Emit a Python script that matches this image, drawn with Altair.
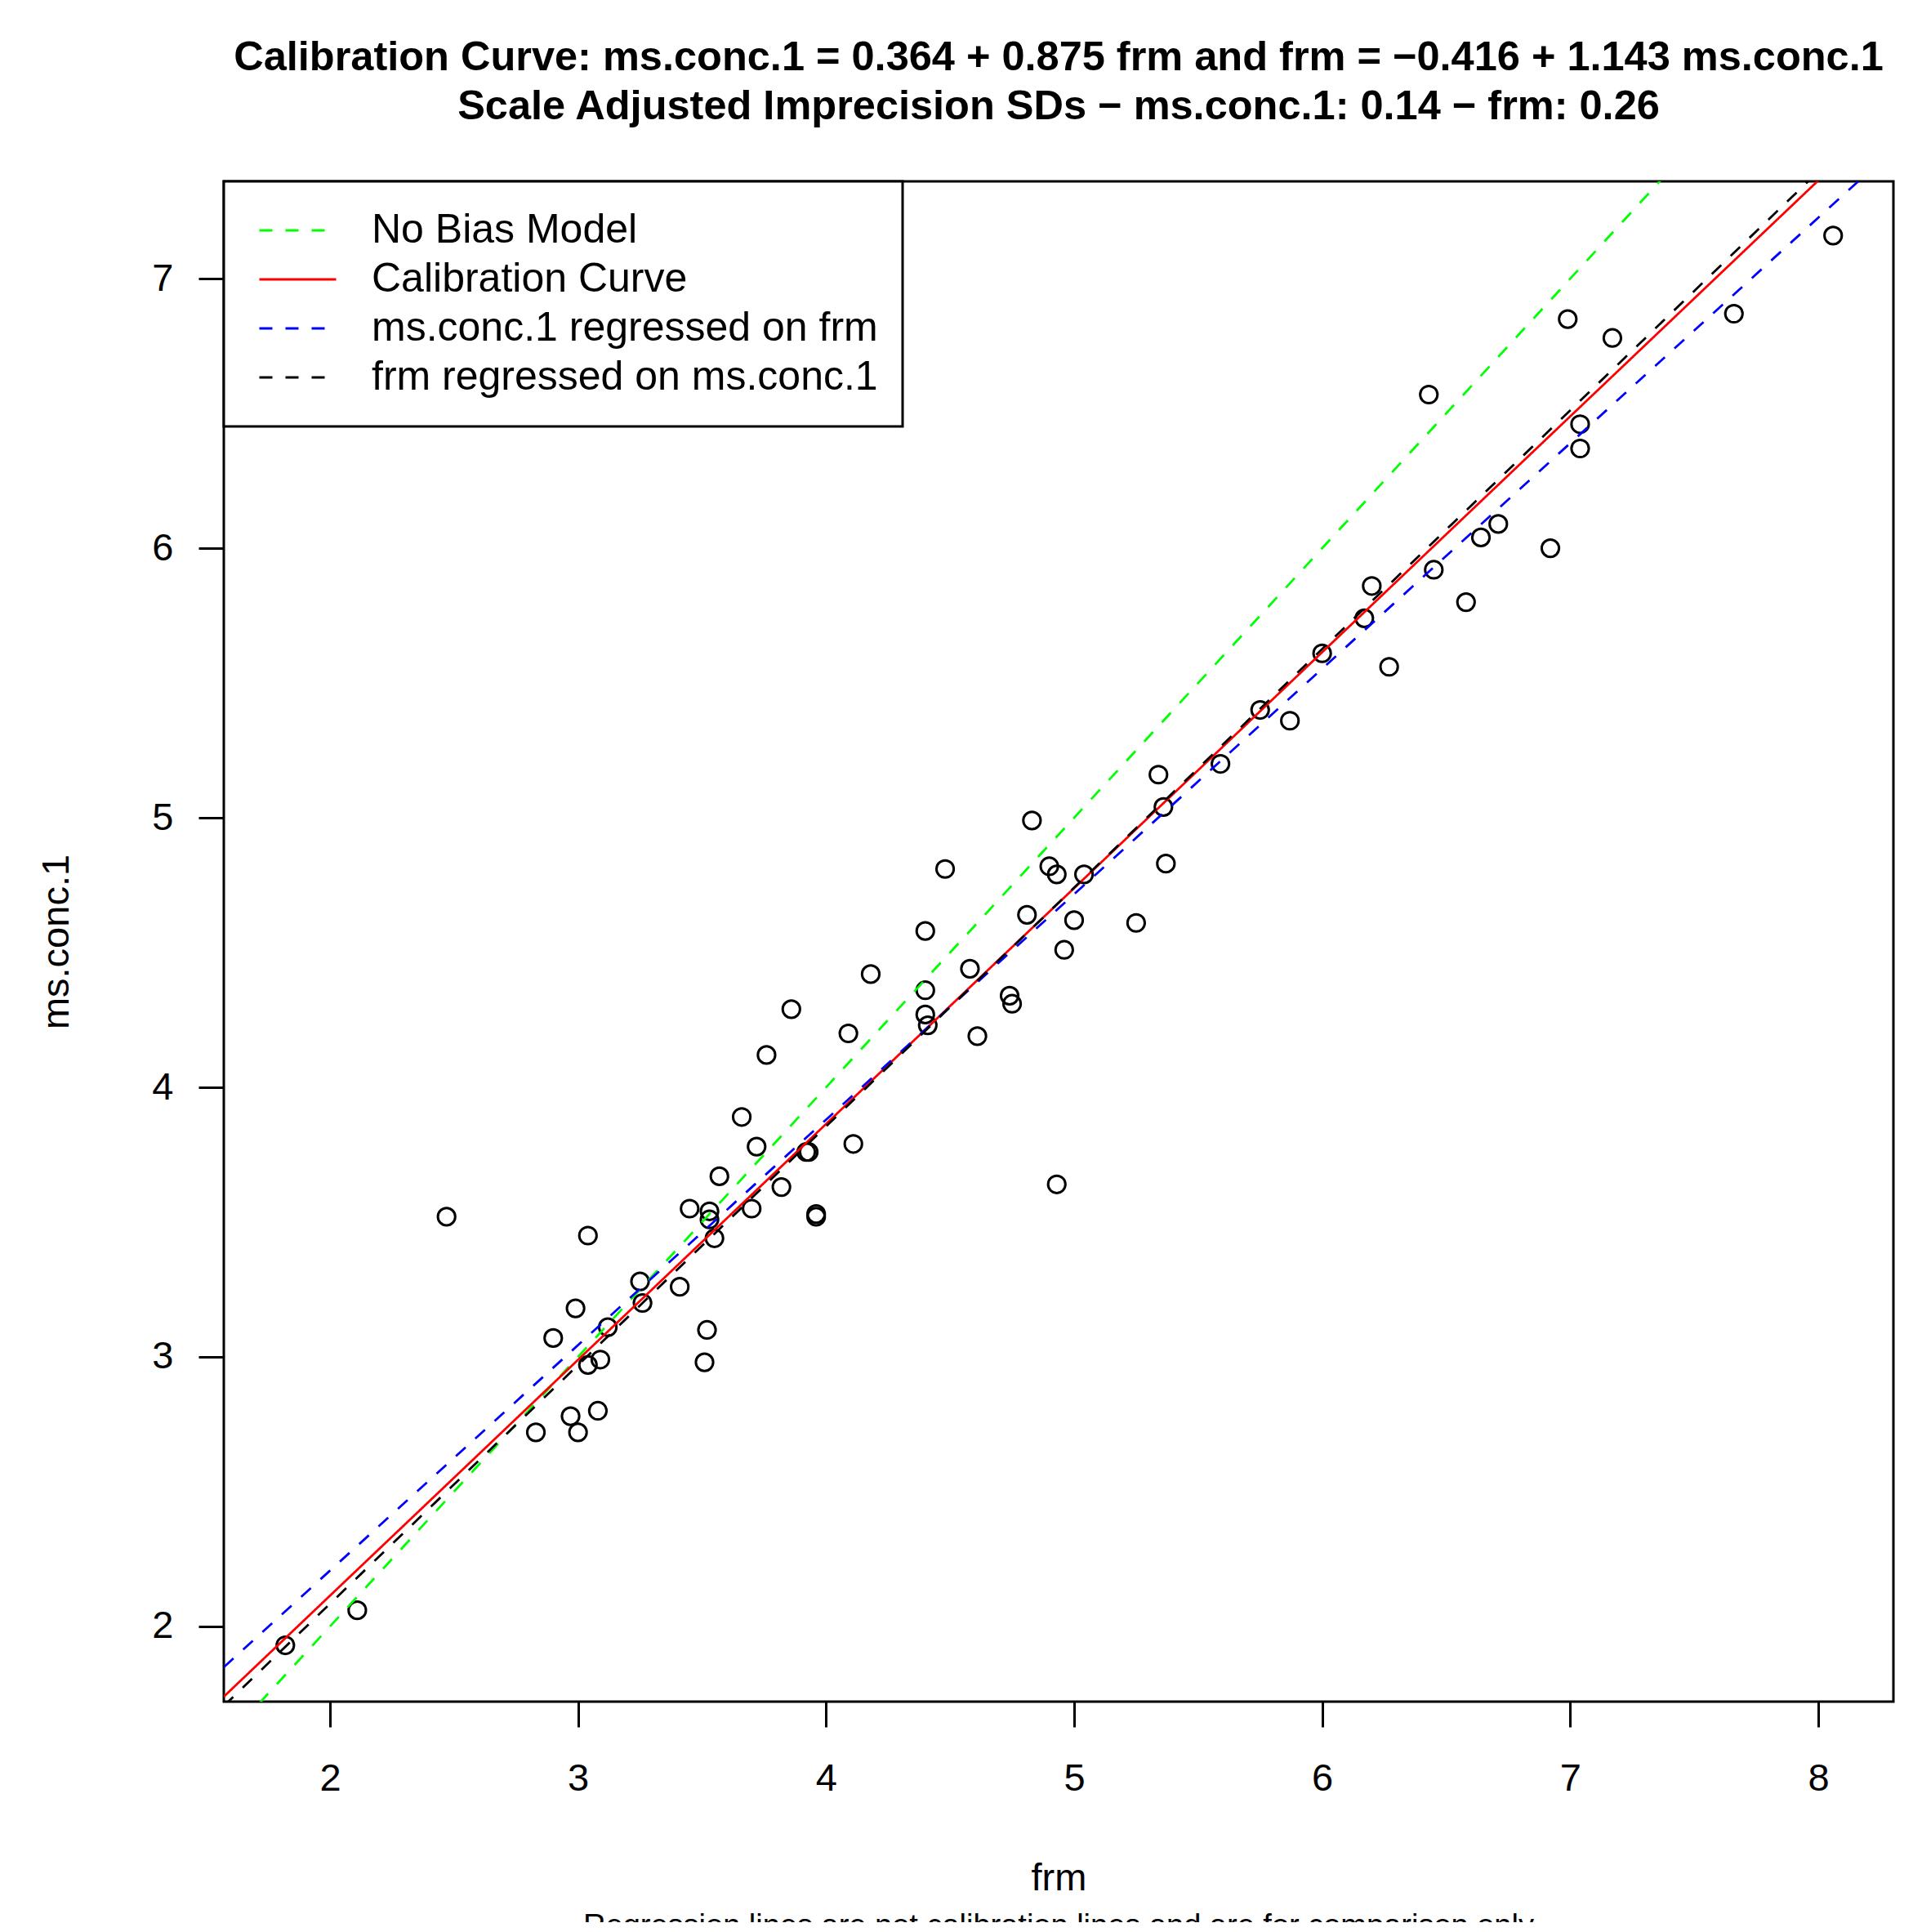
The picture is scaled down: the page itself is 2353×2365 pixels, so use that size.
import altair as alt
import pandas as pd

# ---- data ----
frm = [1.82, 2.11, 2.47, 2.83, 2.90, 2.97, 2.99, 3.00, 3.04, 3.04, 3.09, 3.08, 3.12, 3.25, 3.26,
       3.41, 3.45, 3.51, 3.52, 3.53, 3.53, 3.55, 3.57, 3.66, 3.70, 3.72, 3.76, 3.82, 3.86, 3.92,
       3.93, 3.96, 3.96, 4.09, 4.11, 4.18, 4.40, 4.40, 4.40, 4.41, 4.48, 4.58, 4.61, 4.74, 4.75,
       4.81, 4.83, 4.90, 4.93, 4.93, 4.96, 5.00, 5.04, 5.25, 5.34, 5.36, 5.37, 5.59, 5.75, 5.87,
       6.00, 6.17, 6.20, 6.27, 6.43, 6.45, 6.58, 6.64, 6.71, 6.92, 6.99, 7.04, 7.04, 7.17, 7.66,
       8.06]
ms_conc_1 = [1.93, 2.06, 3.52, 2.72, 3.07, 2.78, 3.18, 2.72, 3.45, 2.97, 2.99, 2.80, 3.11, 3.28, 3.20,
             3.26, 3.55, 2.98, 3.10, 3.54, 3.51, 3.44, 3.67, 3.89, 3.55, 3.78, 4.12, 3.63, 4.29, 3.76,
             3.76, 3.53, 3.52, 4.20, 3.79, 4.42, 4.58, 4.27, 4.36, 4.23, 4.81, 4.44, 4.19, 4.34, 4.31,
             4.64, 4.99, 4.82, 4.79, 3.64, 4.51, 4.62, 4.79, 4.61, 5.16, 5.04, 4.83, 5.20, 5.40, 5.36,
             5.61, 5.74, 5.86, 5.56, 6.57, 5.92, 5.80, 6.04, 6.09, 6.00, 6.85, 6.46, 6.37, 6.78, 6.87,
             7.16]

series_names = ["No Bias Model", "Calibration Curve",
                "ms.conc.1 regressed on frm", "frm regressed on ms.conc.1"]
series_colors = ["#00FF00", "#FF0000", "#0000FF", "#000000"]
series_dashes = [[16, 16], [1, 0], [16, 16], [16, 16]]
intercepts = [0.0, 0.364, 0.534, 0.313]
slopes = [1.0, 0.875, 0.8365, 0.8855]

x_domain = [1.572, 8.303]
y_domain = [1.721, 7.361]
x_ticks = [2, 3, 4, 5, 6, 7, 8]
y_ticks = [2, 3, 4, 5, 6, 7]

title_lines = [
    "Calibration Curve: ms.conc.1 = 0.364 + 0.875 frm and frm = \u22120.416 + 1.143 ms.conc.1",
    "Scale Adjusted Imprecision SDs \u2212 ms.conc.1: 0.14 \u2212 frm: 0.26",
]
note_text = ["Regression lines are not calibration lines and are for comparison only"]

FONT = "Liberation Sans"
W, H = 2044, 1861

# ---- tables ----
points_df = pd.DataFrame({"frm": frm, "ms": ms_conc_1})
rows = []
for name, a, b in zip(series_names, intercepts, slopes):
    for xv in x_domain:
        rows.append({"series": name, "frm": xv, "ms": a + b * xv})
lines_df = pd.DataFrame(rows)
note_df = pd.DataFrame({"note": note_text})

x_scale = alt.Scale(domain=x_domain, nice=False, zero=False)
y_scale = alt.Scale(domain=y_domain, nice=False, zero=False)

x_axis = alt.Axis(values=x_ticks, format="d", title="frm", grid=False, domain=False,
                  tickSize=31, tickWidth=3, tickColor="black",
                  labelFont=FONT, labelFontSize=47, labelColor="black", labelPadding=40,
                  labelFlush=False, labelOverlap=False,
                  titleFont=FONT, titleFontSize=47, titleFontWeight="normal", titleColor="black",
                  titleY=230, titleBaseline="alphabetic")
y_axis = alt.Axis(values=y_ticks, format="d", title="ms.conc.1", grid=False, domain=False,
                  tickSize=31, tickWidth=3, tickColor="black",
                  labelFont=FONT, labelFontSize=47, labelColor="black", labelPadding=31,
                  labelFlush=False, labelOverlap=False,
                  titleFont=FONT, titleFontSize=47, titleFontWeight="normal", titleColor="black",
                  titleX=-191, titleY=H / 2, titleAngle=270, titleAlign="center",
                  titleBaseline="alphabetic")

X = alt.X("frm:Q", scale=x_scale, axis=x_axis)
Y = alt.Y("ms:Q", scale=y_scale, axis=y_axis)

leg = alt.Legend(title=None, orient="none", legendX=0, legendY=0,
                 symbolType="stroke", symbolSize=8836, symbolStrokeWidth=2.8,
                 clipHeight=60, rowPadding=0, padding=30, symbolOffset=12, labelOffset=42,
                 labelFont=FONT, labelFontSize=50, labelColor="black", labelLimit=0,
                 strokeColor="black", fillColor="white", cornerRadius=0)

color_scale = alt.Scale(domain=series_names, range=series_colors)
dash_scale = alt.Scale(domain=series_names, range=series_dashes)

points = alt.Chart(points_df).mark_point(
    shape="circle", filled=False, size=450, strokeWidth=3, color="black", opacity=1
).encode(x=X, y=Y)

line_layers = []
for name in series_names:
    line_layers.append(
        alt.Chart(lines_df).transform_filter(alt.datum.series == name)
        .mark_line(clip=True, strokeWidth=2.8, strokeCap="butt")
        .encode(
            x=X, y=Y,
            color=alt.Color("series:N", scale=color_scale, legend=leg),
            strokeDash=alt.StrokeDash("series:N", scale=dash_scale, legend=leg),
        )
    )

note = alt.Chart(note_df).mark_text(
    font=FONT, fontSize=38, color="black", align="center", baseline="alphabetic"
).encode(text="note:N", x=alt.value(W / 2), y=alt.value(2148))

chart = alt.layer(points, *line_layers, note).properties(
    width=W, height=H,
    background="white",
    title=alt.TitleParams(text=title_lines, font=FONT, fontSize=50.5, fontWeight="bold",
                          color="black", anchor="middle", baseline="bottom",
                          offset=13, lineHeight=60),
    autosize=alt.AutoSizeParams(type="none"),
    padding={"left": 266, "top": 214, "right": 20, "bottom": 270},
).configure_view(stroke="black", strokeWidth=3).configure_legend(strokeWidth=3)

chart.save("out.html", embed_options={"renderer": "svg", "actions": False})
